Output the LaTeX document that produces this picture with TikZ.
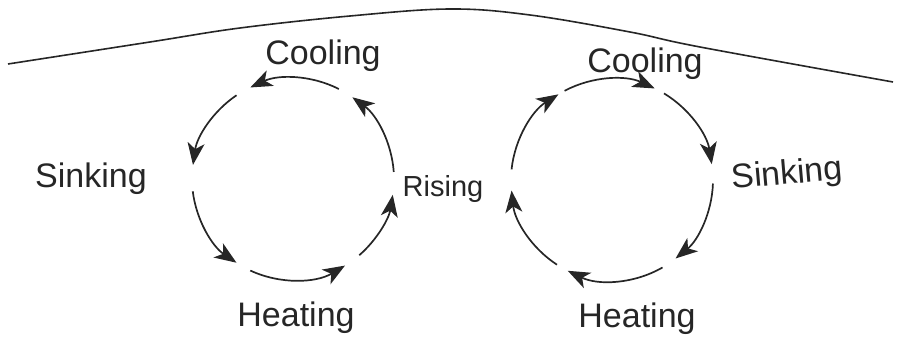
\documentclass[tikz,border=0pt]{standalone}
\usepackage{fontspec}
\setmainfont{Liberation Sans}
\usetikzlibrary{arrows.meta}
\definecolor{ink}{HTML}{262626}
\tikzset{
  cyc/.style={draw=ink, line width=1.7pt, -{Stealth[length=22pt,width=17pt,inset=6pt]}},
  lbl/.style={text=ink, font=\fontsize{34}{40}\selectfont, anchor=base, inner sep=0pt},
  topline/.style={draw=ink, line width=1.6pt}
}
\begin{document}
\begin{tikzpicture}[x=1pt,y=1pt]
\useasboundingbox (0,0) rectangle (900,348);
% top curve
\draw[topline] plot[smooth, tension=0.6] coordinates {(8,284) (150,306) (240,320) (350,332) (450,339) (530,333) (630,316) (700,301) (893,266)};
% centers
\coordinate (cl) at (293,169);
\coordinate (cr) at (612,168);
% left circle (counterclockwise)
\foreach \a/\b in {63/115, 124/172, 187/236, 245/301, 311/351, 4/54}{
  \draw[cyc] ([shift={(\a:101)}]cl) arc[start angle=\a, end angle=\b, radius=101];
}
% right circle (clockwise)
\foreach \a/\b in {118/65, 59/9, -2/-51, -60/-116, -123/-174, 174/122}{
  \draw[cyc] ([shift={(\a:101)}]cr) arc[start angle=\a, end angle=\b, radius=101];
}
% labels
\node[lbl] (coolL) at (323,283) {Cooling};
\node[lbl] (sinkL) at (91,160) {Sinking};
\node[lbl] (heatL) at (296,21) {Heating};
\node[lbl, font=\fontsize{29}{34}\selectfont] (rise) at (443,151) {Rising};
\node[lbl] (coolR) at (645,275) {Cooling};
\node[lbl, rotate=5] (sinkR) at (788,164) {Sinking};
\node[lbl] (heatR) at (637,20) {Heating};
\end{tikzpicture}
\end{document}
